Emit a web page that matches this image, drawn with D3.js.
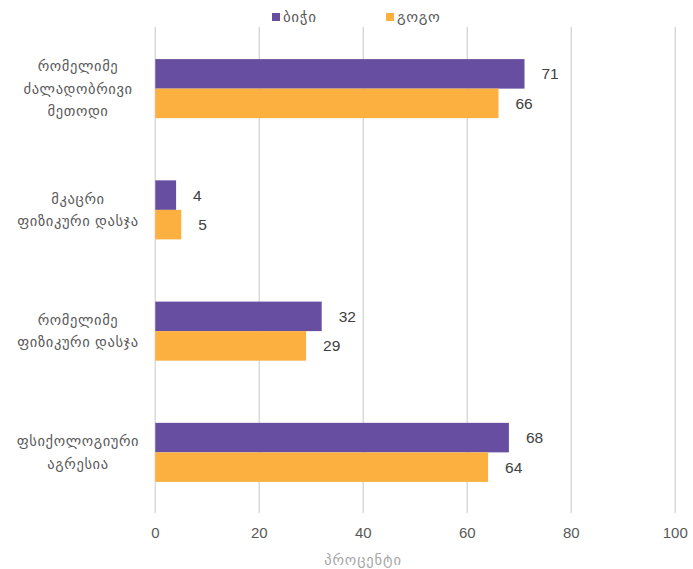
<!DOCTYPE html>
<html>
<head>
<meta charset="utf-8">
<script src="https://cdn.jsdelivr.net/npm/d3@7"></script>
<style>
  body { margin: 0; background: #fff; }
  svg { display: block; }
  text { font-family: "Liberation Sans", "DejaVu Sans", sans-serif; }
</style>
</head>
<body>
<svg id="chart" width="693" height="569"></svg>
<script>
const categories = [
  ["რომელიმე", "ძალადობრივი", "მეთოდი"],
  ["მკაცრი", "ფიზიკური დასჯა"],
  ["რომელიმე", "ფიზიკური დასჯა"],
  ["ფსიქოლოგიური", "აგრესია"]
];
const seriesNames = ["ბიჭი", "გოგო"];
const boys = [71, 4, 32, 68];
const girls = [66, 5, 29, 64];
const xTicks = [0, 20, 40, 60, 80, 100];
const axisTitle = "პროცენტი";
const colors = ["#674ea0", "#fbb040"];

const svg = d3.select("#chart");
const x = d3.scaleLinear().domain([0, 100]).range([155.3, 675.3]);
const y = d3.scaleBand().domain(d3.range(categories.length)).range([28, 513])
  .paddingInner(0.513).paddingOuter(0.2565);
const sub = d3.scaleBand().domain([0, 1]).range([0, y.bandwidth()]);

// gridlines
svg.append("g").selectAll("line").data(xTicks).join("line")
  .attr("x1", d => x(d)).attr("x2", d => x(d))
  .attr("y1", 27).attr("y2", 513)
  .attr("stroke", "#d9d9d9").attr("stroke-width", 1.5);

// tick labels
svg.append("g").selectAll("text").data(xTicks).join("text")
  .attr("x", d => x(d)).attr("y", 538)
  .attr("text-anchor", "middle").attr("font-size", 15).attr("fill", "#595959")
  .text(d => d);

// axis title
svg.append("text").attr("x", 363).attr("y", 565).attr("text-anchor", "middle")
  .attr("font-size", 14.5).attr("letter-spacing", "0.9px")
  .attr("fill", "#a6a6a6").text(axisTitle);

const series = [boys, girls];
series.forEach((vals, si) => {
  const g = svg.append("g");
  g.selectAll("rect").data(vals).join("rect")
    .attr("x", x(0))
    .attr("y", (d, i) => y(i) + sub(si))
    .attr("width", d => x(d) - x(0))
    .attr("height", sub.bandwidth())
    .attr("fill", colors[si]);
  g.selectAll("text").data(vals).join("text")
    .attr("x", d => x(d) + 17)
    .attr("y", (d, i) => y(i) + sub(si) + sub.bandwidth() / 2)
    .attr("dy", "0.35em")
    .attr("font-size", 15.5).attr("fill", "#404040")
    .text(d => d);
});

// category labels
const cg = svg.append("g");
categories.forEach((lines, i) => {
  const cy = y(i) + y.bandwidth() / 2;
  const lh = 22.5;
  const t = cg.append("text").attr("text-anchor", "middle").attr("font-size", 14.5)
    .attr("letter-spacing", "0.6px")
    .attr("fill", "#595959");
  lines.forEach((ln, j) => {
    t.append("tspan").attr("x", 78)
      .attr("y", cy + (j - (lines.length - 1) / 2) * lh)
      .attr("dy", "0.35em").text(ln);
  });
});

// legend
const legend = svg.append("g");
const lx = [272, 386];
seriesNames.forEach((n, i) => {
  legend.append("rect").attr("x", lx[i]).attr("y", 13).attr("width", 8).attr("height", 8)
    .attr("fill", colors[i]);
  legend.append("text").attr("x", lx[i] + 11).attr("y", 17).attr("dy", "0.35em")
    .attr("font-size", 15).attr("letter-spacing", "0.6px")
    .attr("fill", "#595959").text(n);
});
</script>
</body>
</html>
